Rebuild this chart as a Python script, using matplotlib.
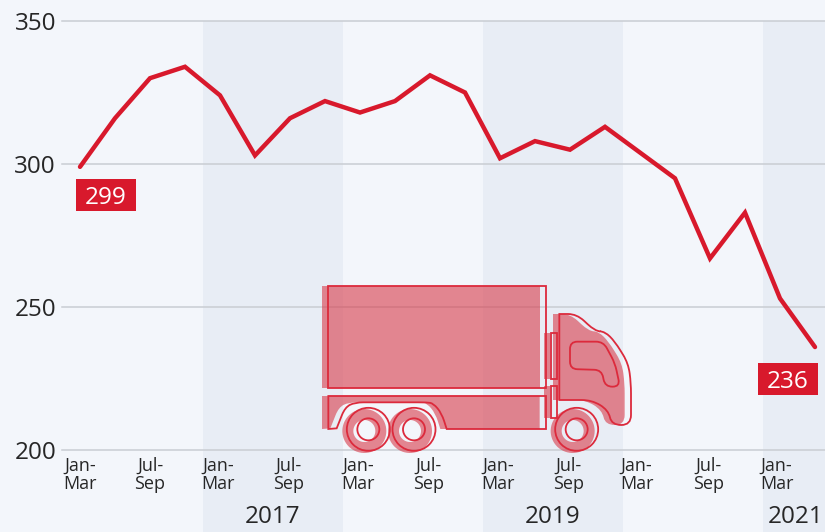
import matplotlib
matplotlib.use("Agg")
import matplotlib.pyplot as plt
from matplotlib.path import Path
from matplotlib.patches import PathPatch, Circle, Rectangle
import numpy as np

plt.rcParams['font.family'] = ['Open Sans', 'DejaVu Sans']

# data
values = [299, 316, 330, 334, 324, 303, 316, 322, 318, 322, 331,
          325, 302, 308, 305, 313, 304, 295, 267, 283, 253, 236]
yticks = [200, 250, 300, 350]
tick_pos = [0, 2, 3.95, 5.95, 7.95, 9.95, 11.95, 13.95, 15.9, 17.95, 19.9]
tick_labels = ["Jan-\nMar", "Jul-\nSep"] * 5 + ["Jan-\nMar"]
years = ["2017", "2019", "2021"]
year_pos = [5.5, 13.5, 20.45]
year_bands = [(3.5, 7.5), (11.5, 15.5), (19.5, 21.3)]

RED = "#d8192c"
BG = "#f3f6fb"
BAND = "#e8edf5"
TXT = "#262626"

fig = plt.figure(figsize=(8.25, 5.32), dpi=100, facecolor=BG)
ax = fig.add_axes([0, 0, 1, 1], facecolor=BG)
# axes fill the whole picture
ax.set_xlim(-80 / 35, (825 - 80) / 35)
ax.set_ylim(200 - 82 * 50 / 143, 350 + 21 * 50 / 143)
ax.axis("off")

for a, b in year_bands:
    ax.add_patch(Rectangle((a, 0), b - a, 350, fc=BAND, ec="none", zorder=1))

for y in yticks:
    ax.plot([-18 / 35, 21.3], [y, y], color="#c9cdd3", lw=1.1, zorder=2)
    ax.text(-24 / 35, y, str(y), ha="right", va="center_baseline", fontsize=17.5, color=TXT, zorder=5)

for x, lab in zip(tick_pos, tick_labels):
    ax.text(x, 197.5, lab, ha="center", va="top", fontsize=13, color=TXT, linespacing=0.97, zorder=5)

for x, lab in zip(year_pos, years):
    ax.text(x, 174.5, lab, ha="center", va="baseline", fontsize=17.5, color=TXT, zorder=5)

ax.plot(range(len(values)), values, color=RED, lw=3.2, solid_joinstyle="miter", solid_capstyle="round", zorder=6)

# truck icon and labels, drawn on a pixel overlay
ov = fig.add_axes([0, 0, 1, 1], facecolor="none")
ov.set_xlim(0, 825)
ov.set_ylim(532, 0)
ov.axis("off")

# value labels on first and last point
for val, (bx, by) in ((values[0], (76, 179)), (values[-1], (758, 363))):
    ov.add_patch(Rectangle((bx, by), 60, 32, fc=RED, ec="none", zorder=8))
    ov.text(bx + 30, by + 16, str(val), ha="center", va="center_baseline", fontsize=17.5,
            fontweight="medium", color="white", zorder=9)


def z2p(pts, dx=0, dy=0):
    "crop coords (3x zoom) to picture pixels"
    return [(300 + (x + dx) / 3, 270 + (y + dy) / 3) for x, y in pts]


def ring_path(ring, rad, skip, dx):
    "closed ring with rounded corners, corners listed in skip stay sharp"
    pts = np.array(z2p(ring, dx))
    n = len(pts)
    verts = []
    codes = []
    for i in range(n):
        p = pts[i]
        if i in skip:
            verts.append(tuple(p))
            codes.append(Path.LINETO)
            continue
        a = pts[i - 1] - p
        b = pts[(i + 1) % n] - p
        ra = min(rad / 3, np.hypot(*a) / 2)
        rb = min(rad / 3, np.hypot(*b) / 2)
        verts += [tuple(p + a / np.hypot(*a) * ra), tuple(p), tuple(p + b / np.hypot(*b) * rb)]
        codes += [Path.LINETO, Path.CURVE3, Path.CURVE3]
    codes[0] = Path.MOVETO
    verts.append(verts[0])
    codes.append(Path.CLOSEPOLY)
    return verts, codes


def poly(rings, dx=0):
    verts = []
    codes = []
    for ring, rad, skip in rings:
        v, c = ring_path(ring, rad, skip, dx)
        verts += v
        codes += c
    return Path(verts, codes)


box = [(85, 47), (738, 47), (738, 355), (85, 355)]
lower = [(85, 378), (738, 378), (738, 477), (440, 477), (425, 430), (400, 400), (380, 397),
         (165, 397), (135, 412), (110, 475), (85, 477)]
cab = [(778, 132), (830, 132), (885, 183), (915, 185), (945, 215), (985, 280), (993, 340), (993, 465),
       (935, 465), (925, 420), (875, 390), (778, 390)]
window = [(810, 215), (910, 215), (945, 280), (960, 350), (915, 350), (905, 300), (810, 297)]
link1 = [(752, 190), (770, 190), (770, 328), (752, 328)]
link2 = [(752, 348), (770, 348), (770, 445), (752, 445)]
wheels = [(205, 478), (342, 478), (830, 478)]

FILL = "#d8404f"
shapes = [
    [(box, 0, {0, 1, 2, 3})],
    [(lower, 25, {0, 1, 2, 3, 9, 10})],
    [(cab, 30, {0, 11}), (window, 22, set())],
    [(link1, 0, {0, 1, 2, 3})],
    [(link2, 0, {0, 1, 2, 3})],
]
for rings in shapes:
    ov.add_patch(PathPatch(poly(rings, dx=-19), fc=FILL, ec="none", alpha=0.62, zorder=3))
    ov.add_patch(PathPatch(poly(rings), fc="none", ec="#dc2a3c", lw=1.3, zorder=4))

for cx, cy in wheels:
    (px, py), = z2p([(cx - 12, cy + 5)])
    t = np.linspace(0, 2 * np.pi, 60)
    ring = np.r_[np.c_[px + 22 * np.cos(t), py + 22 * np.sin(t)], np.c_[px + 11 * np.cos(t[::-1]), py + 11 * np.sin(t[::-1])]]
    codes = [Path.MOVETO] + [Path.LINETO] * 59 + [Path.MOVETO] + [Path.LINETO] * 59
    ov.add_patch(PathPatch(Path(ring, codes), fc=FILL, ec="none", alpha=0.62, zorder=3))
    (qx, qy), = z2p([(cx, cy)])
    for r in (21.5, 11):
        ov.add_patch(Circle((qx, qy), r, fc="none", ec="#dc2a3c", lw=1.3, zorder=4))

fig.savefig("out.png", dpi=100, facecolor=BG)
